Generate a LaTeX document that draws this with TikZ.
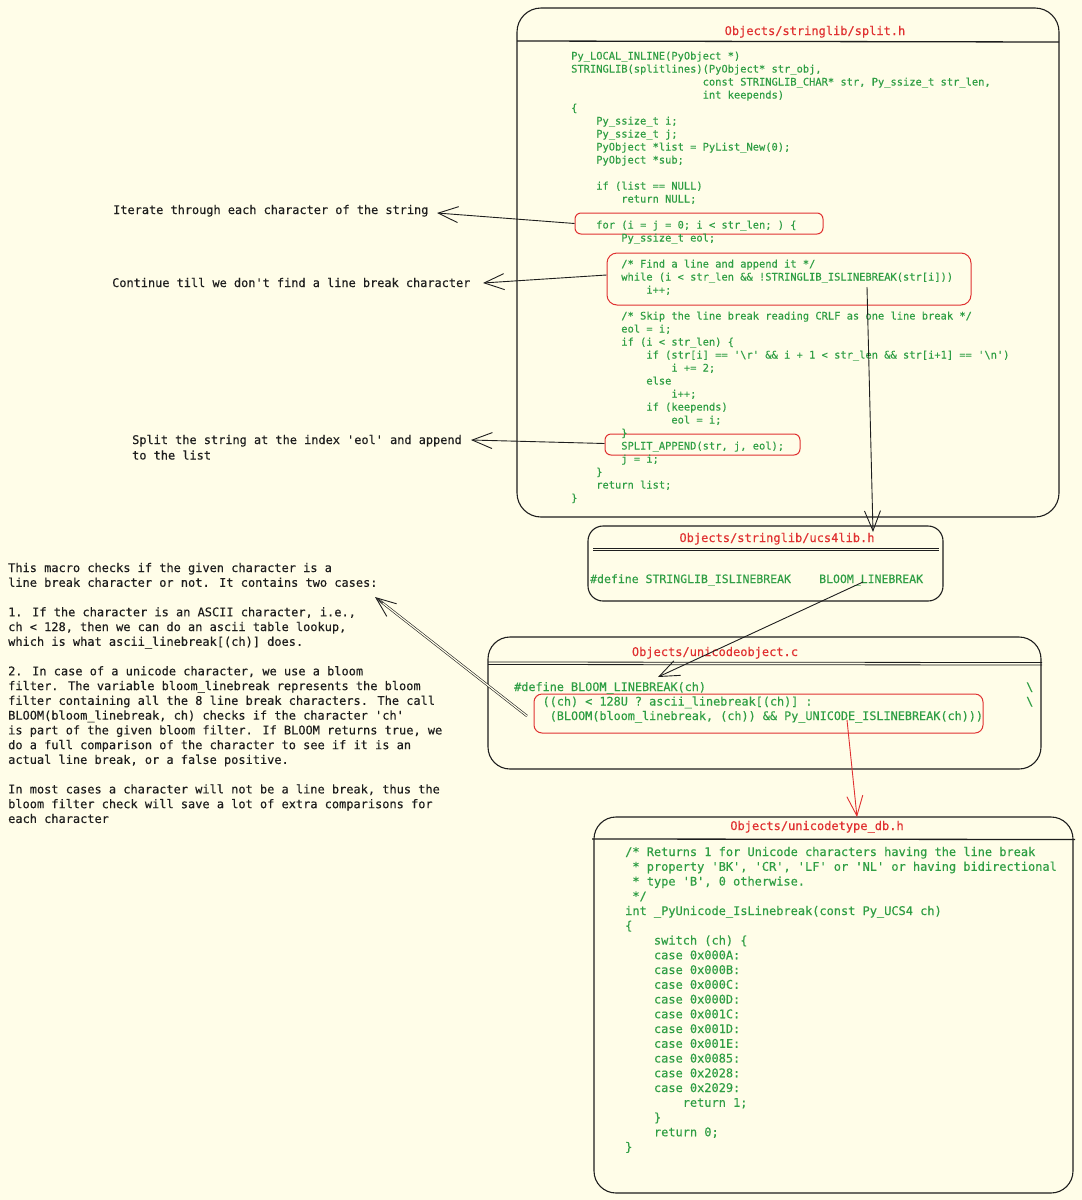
\documentclass[tikz,border=0pt]{standalone}
\usepackage{fontspec}
\newfontfamily\code[FakeBold=0.35]{DejaVu Sans Mono}
\usetikzlibrary{arrows.meta,calc}
\definecolor{bg}{HTML}{FFFDE8}
\definecolor{ink}{HTML}{1E1E1E}
\definecolor{cgreen}{HTML}{2F9E44}
\definecolor{cred}{HTML}{E03131}
\newcommand\cl[2][0]{\hbox{\hskip#1\fontcharwd\font`0\relax #2}}
\newcommand\codeblock[3]{\vtop{\code\fontsize{#1}{#2}\selectfont\lineskiplimit=-100pt\relax #3}}
\tikzset{
  frame/.style={draw=ink, line width=1.1pt, rounded corners=20pt, inner sep=0pt},
  hlbox/.style={draw=cred, line width=1pt, rounded corners=6pt, inner sep=0pt},
  txt/.style={anchor=base west, inner sep=0pt},
  ttl/.style={anchor=base, inner sep=0pt, text=cred, font=\code\fontsize{12}{14}\selectfont},
  conn/.style={draw=ink, line width=0.9pt, -{Straight Barb[length=20pt,width=16pt]}},
  redconn/.style={draw=cred, line width=0.9pt, -{Straight Barb[length=20pt,width=16pt]}},
  hdr/.style={draw=ink, line width=1.3pt},
}
\begin{document}
\begin{tikzpicture}[x=1pt,y=-1pt]
\fill[bg] (0,0) rectangle (1082,1200);
\useasboundingbox (0,0) rectangle (1082,1200);

% ---------- split.h ----------
\node[frame, minimum width=542pt, minimum height=509pt, rounded corners=24pt] (splitbox) at (788,262.5) {};
\draw[hdr] (517,41) -- (1059,42);
\node[ttl] (splitttl) at (815,35) {Objects/stringlib/split.h};
\node[hlbox, minimum width=248pt, minimum height=21pt] (forbox) at (699,223.5) {};
\node[hlbox, minimum width=364pt, minimum height=52pt, rounded corners=10pt] (findbox) at (789,279) {};
\node[hlbox, minimum width=195pt, minimum height=21pt] (appendbox) at (702.5,444.5) {};
\node[txt, text=cgreen] (splitcode) at (571,59.5) {\codeblock{10.4}{13}{%
\cl{Py\_LOCAL\_INLINE(PyObject *)}
\cl{STRINGLIB(splitlines)(PyObject* str\_obj,}
\cl[21]{const STRINGLIB\_CHAR* str, Py\_ssize\_t str\_len,}
\cl[21]{int keepends)}
\cl{\{}
\cl[4]{Py\_ssize\_t i;}
\cl[4]{Py\_ssize\_t j;}
\cl[4]{PyObject *list = PyList\_New(0);}
\cl[4]{PyObject *sub;}
\cl{}
\cl[4]{if (list == NULL)}
\cl[8]{return NULL;}
\cl{}
\cl[4]{for (i = j = 0; i < str\_len; ) \{}
\cl[8]{Py\_ssize\_t eol;}
\cl{}
\cl[8]{/* Find a line and append it */}
\cl[8]{while (i < str\_len \&\& !STRINGLIB\_ISLINEBREAK(str[i]))}
\cl[12]{i++;}
\cl{}
\cl[8]{/* Skip the line break reading CRLF as one line break */}
\cl[8]{eol = i;}
\cl[8]{if (i < str\_len) \{}
\cl[12]{if (str[i] == '\textbackslash r' \&\& i + 1 < str\_len \&\& str[i+1] == '\textbackslash n')}
\cl[16]{i += 2;}
\cl[12]{else}
\cl[16]{i++;}
\cl[12]{if (keepends)}
\cl[16]{eol = i;}
\cl[8]{\}}
\cl[8]{SPLIT\_APPEND(str, j, eol);}
\cl[8]{j = i;}
\cl[4]{\}}
\cl[4]{return list;}
\cl{\}}}};

% ---------- annotations ----------
\node[txt, text=ink] (iter) at (113,214) {\codeblock{11.9}{15}{\cl{Iterate through each character of the string}}};
\node[txt, text=ink] (cont) at (112,287) {\codeblock{11.9}{15}{\cl{Continue till we don't find a line break character}}};
\node[txt, text=ink] (splt) at (132,444) {\codeblock{11.9}{15.5}{\cl{Split the string at the index 'eol' and append}\cl{to the list}}};
\coordinate (itertip) at (437,213);
\coordinate (conttip) at (483,283);
\coordinate (splttip) at (471,440);
\draw[conn] (forbox.west) -- (itertip);
\draw[conn] ($(findbox.west)+(0,-4)$) -- (conttip);
\draw[conn] ($(appendbox.west)+(0,-1)$) -- (splttip);

% ---------- ucs4lib.h ----------
\node[frame, minimum width=355pt, minimum height=75pt, rounded corners=15pt] (ucsbox) at (765.5,563.5) {};
\draw[ink, line width=0.8pt] (593,548) -- (939,548);
\draw[ink, line width=0.8pt] (593,550.2) -- (939,550.2);
\node[ttl] (ucsttl) at (777,542) {Objects/stringlib/ucs4lib.h};
\node[txt, text=cgreen] (ucsdef) at (590,583) {\codeblock{11.5}{14}{\cl{\#define STRINGLIB\_ISLINEBREAK}}};
\node[txt, text=cgreen] (ucsbloom) at (819,583) {\codeblock{11.5}{14}{\cl{BLOOM\_LINEBREAK}}};
\coordinate (islb) at (867,287);
\coordinate (ucstip) at (873,532);
\draw[conn] (islb) -- (ucstip);

% ---------- unicodeobject.c ----------
\node[frame, minimum width=553pt, minimum height=132pt, rounded corners=22pt] (uobox) at (764.5,703) {};
\draw[ink, line width=0.8pt] (488,662) -- (1042,662.5);
\draw[ink, line width=0.8pt] (488,664.5) -- (1042,665);
\node[ttl] (uottl) at (715,656) {Objects/unicodeobject.c};
\node[hlbox, minimum width=449pt, minimum height=39pt, rounded corners=8pt] (bloombox) at (758.5,713.5) {};
\node[txt, text=cgreen] (uocode) at (514,691) {\codeblock{11.8}{14.5}{%
\cl{\#define BLOOM\_LINEBREAK(ch)}
\cl[4]{((ch) < 128U ? ascii\_linebreak[(ch)] :}
\cl[5]{(BLOOM(bloom\_linebreak, (ch)) \&\& Py\_UNICODE\_ISLINEBREAK(ch)))}}};
\node[txt, text=cgreen] (uobs) at (1026,691) {\codeblock{11.8}{14.5}{\cl{\textbackslash}\cl{\textbackslash}}};
\coordinate (ucsfrom) at (863,582);
\coordinate (uotip) at (658,677);
\draw[conn] (ucsfrom) -- (uotip);

% ---------- left explanation ----------
\node[txt, text=ink] (expl) at (8,572) {\codeblock{11.95}{14.76}{%
\cl{This macro checks if the given character is a}
\cl{line break character or not. It contains two cases:}
\cl{}
\cl{1. If the character is an ASCII character, i.e.,}
\cl{ch < 128, then we can do an ascii table lookup,}
\cl{which is what ascii\_linebreak[(ch)] does.}
\cl{}
\cl{2. In case of a unicode character, we use a bloom}
\cl{filter. The variable bloom\_linebreak represents the bloom}
\cl{filter containing all the 8 line break characters. The call}
\cl{BLOOM(bloom\_linebreak, ch) checks if the character 'ch'}
\cl{is part of the given bloom filter. If BLOOM returns true, we}
\cl{do a full comparison of the character to see if it is an}
\cl{actual line break, or a false positive.}
\cl{}
\cl{In most cases a character will not be a line break, thus the}
\cl{bloom filter check will save a lot of extra comparisons for}
\cl{each character}}};
\coordinate (bloomfrom) at (527,716);
\coordinate (expltip) at (375,597);
\draw[ink, line width=0.6pt, double=bg, double distance=1.2pt, shorten >=3pt] (bloomfrom) -- (expltip);
\draw[conn] ($(expltip)!10pt!(bloomfrom)$) -- (expltip);

% ---------- unicodetype_db.h ----------
\node[frame, minimum width=479pt, minimum height=376pt, rounded corners=22pt] (udbbox) at (833.5,1005) {};
\draw[hdr] (592,839) -- (1075,839.5);
\node[ttl] (udbttl) at (817,830) {Objects/unicodetype\_db.h};
\node[txt, text=cgreen] (udbcode) at (625,856) {\codeblock{11.95}{14.75}{%
\cl{/* Returns 1 for Unicode characters having the line break}
\cl[1]{* property 'BK', 'CR', 'LF' or 'NL' or having bidirectional}
\cl[1]{* type 'B', 0 otherwise.}
\cl[1]{*/}
\cl{int \_PyUnicode\_IsLinebreak(const Py\_UCS4 ch)}
\cl{\{}
\cl[4]{switch (ch) \{}
\cl[4]{case 0x000A:}
\cl[4]{case 0x000B:}
\cl[4]{case 0x000C:}
\cl[4]{case 0x000D:}
\cl[4]{case 0x001C:}
\cl[4]{case 0x001D:}
\cl[4]{case 0x001E:}
\cl[4]{case 0x0085:}
\cl[4]{case 0x2028:}
\cl[4]{case 0x2029:}
\cl[8]{return 1;}
\cl[4]{\}}
\cl[4]{return 0;}
\cl{\}}}};
\coordinate (redfrom) at (847,720);
\coordinate (udbtip) at (857,817);
\draw[redconn] (redfrom) -- (udbtip);
\end{tikzpicture}
\end{document}
